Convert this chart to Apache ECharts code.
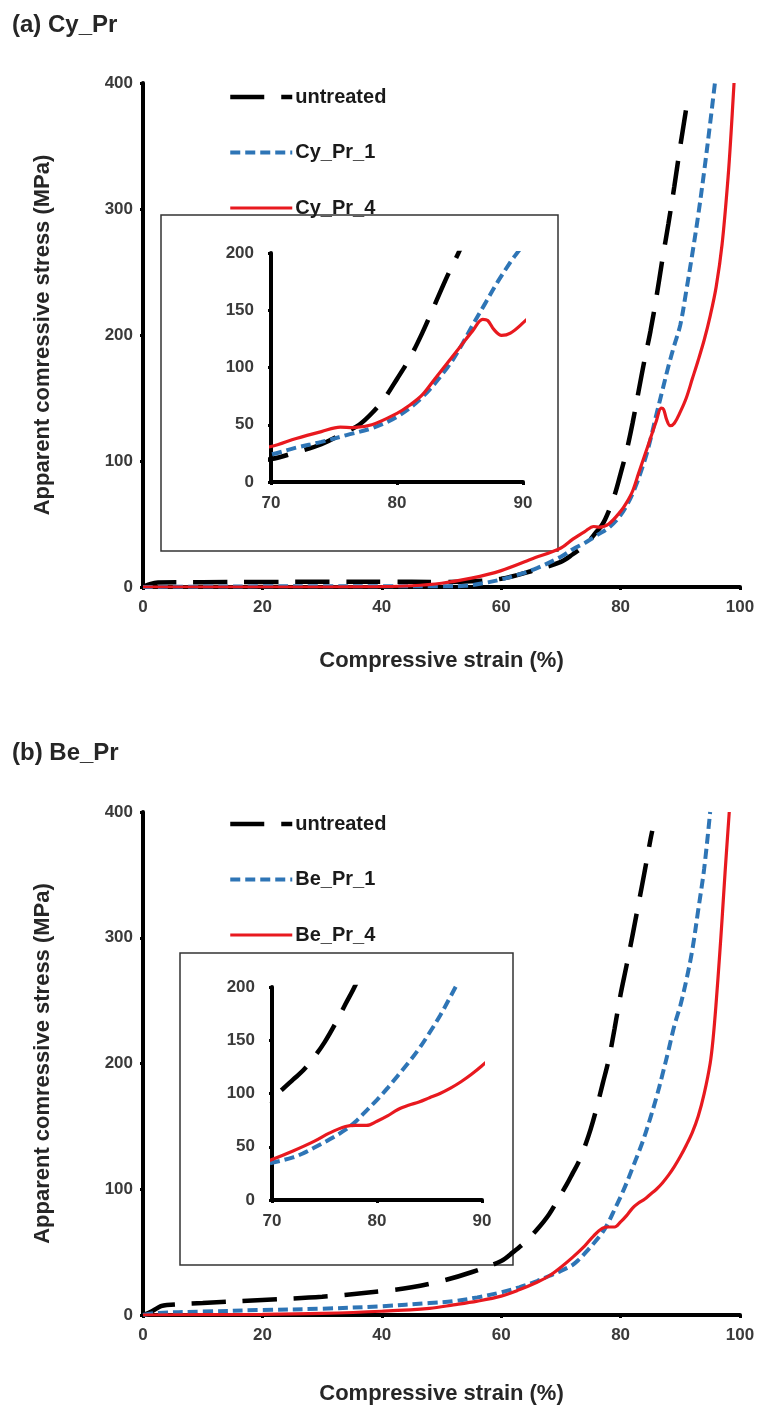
<!DOCTYPE html>
<html>
<head>
<meta charset="utf-8">
<script src="https://cdn.jsdelivr.net/npm/echarts@6/dist/echarts.min.js"></script>
<style>
html, body { margin: 0; padding: 0; background: #fff; }
#chart { width: 760px; height: 1411px; }
</style>
</head>
<body>
<div id="chart"></div>
<script>
// panel titles and legend names
const panelTitles = ['(a) Cy_Pr', '(b) Be_Pr'];
const namesA = ['untreated', 'Cy_Pr_1', 'Cy_Pr_4'];
const namesB = ['untreated', 'Be_Pr_1', 'Be_Pr_4'];

// [strain %, stress MPa]
const untreatedA = [[0,0],[1,2],[2.5,3.5],[10,3.8],[20,4],[30,4.2],[40,4.2],[50,4],[55,4.5],[60,6.5],[65,12.5],[70,20],[72,26],[74,33],[76,44],[77,50],[78,60],[79,73],[80,90],[81,108],[82,130],[83,155],[84,180],[85,203],[86,230],[87,260],[88,288],[89,318],[90,350],[91,380],[91.3,390]];
const cyPr1 = [[0,0],[10,0.3],[20,0.5],[30,0.5],[40,0.5],[50,0.5],[54,1],[57,3],[60,6],[63,10],[66,15],[70,24],[72,30],[74,35],[76,41],[78,47],[80,57],[82,74],[84,100],[85,117],[86,137],[87,156],[88,175],[89,192],[90,208],[91,235],[92,264],[93,295],[94,330],[95,368],[95.8,400]];
const cyPr4 = [[0,0],[10,0],[20,0],[30,0],[40,0.3],[45,1],[50,3],[55,7],[60,13],[65,22],[70,31],[72,38],[74,44],[75.5,48],[76.5,47.5],[78,50],[80,60],[81,67],[82,76],[83,90],[84,104],[85,118],[86,132],[86.8,142],[87.2,141],[87.7,133],[88.3,128],[89,130],[90,139],[91,150],[92,165],[93,180],[94,196],[95,215],[96,238],[97,272],[98,325],[98.5,360],[99,400]];

const untreatedB = [[0,0],[1.5,3],[3,7],[4,8],[10,9.5],[20,12],[30,14.5],[40,19],[45,22],[50,27],[55,34],[60,43],[62,50],[64,58],[66,68],[68,80],[70,96],[71,104],[72,113],[73,122],[74,134],[75,148],[76,165],[77,184],[78,203],[79,228],[80,255],[81,278],[82,302],[83,327],[84,352],[85,378],[85.3,385]];
const bePr1 = [[0,0],[2,1.5],[10,2.7],[20,4],[30,5],[40,7],[48,9.5],[52,11],[56,14],[60,18],[63,22],[66,27],[68,31],[70,35],[72,40],[73,44],[74,49],[75.5,57],[77,66],[78,74],[79,84],[80,94],[81,105],[82,117],[83,129],[84,142],[85,157],[86,173],[87,191],[88,210],[89,230],[90,246],[91,266],[92,290],[93,322],[94,355],[95,400]];
const bePr4 = [[0,0],[10,0.3],[20,0.5],[30,1.3],[40,3],[48,5.3],[52,8],[56,11],[60,15],[63,20],[66,26],[68,31],[70,38],[72,46],[74,55],[75.5,63],[77,69],[78,70],[79,70],[80,74],[81,79],[82,85],[83,89],[84,92],[85,96],[86,100],[87,105],[88,111],[89,118],[90,126],[91,135],[92,145],[93,158],[94,176],[95,200],[95.5,220],[96,248],[96.6,287],[97,315],[97.5,352],[98.2,400]];

const mainXTicks = [0, 100, 20];
const mainYTicks = [0, 400, 100];
const insetXTicks = [70, 90, 10];
const insetYTicks = [0, 200, 50];

const styles = [
  { color: '#000', width: 4.5, type: [34, 17] },
  { color: '#2e75b6', width: 4, type: [10, 5] },
  { color: '#e8191f', width: 3.2, type: 'solid' }
];

const font = 'Liberation Sans, Arial, sans-serif';

function makeAxes(idx, xt, yt, big, xGap) {
  const axisLine = { show: true, lineStyle: { color: '#000', width: 4, cap: 'round' } };
  const tick = { show: true, length: 3, lineStyle: { color: '#000', width: 3 } };
  const lab = { color: '#3a3a3a', fontWeight: 'bold', fontFamily: font, fontSize: 17 };
  return {
    x: {
      type: 'value', gridIndex: idx, min: xt[0], max: xt[1], interval: xt[2],
      axisLine, axisTick: tick, splitLine: { show: false },
      axisLabel: Object.assign({ margin: big ? 12 : 13 }, lab),
      name: big ? 'Compressive strain (%)' : '', nameLocation: 'middle', nameGap: xGap || 0,
      nameTextStyle: { color: '#262626', fontWeight: 'bold', fontFamily: font, fontSize: 22 }
    },
    y: {
      type: 'value', gridIndex: idx, min: yt[0], max: yt[1], interval: yt[2],
      axisLine, axisTick: tick, splitLine: { show: false },
      axisLabel: Object.assign({ margin: big ? 10 : 17 }, lab),
      name: big ? 'Apparent comressive stress (MPa)' : '', nameLocation: 'middle', nameGap: big ? 89 : 0,
      nameTextStyle: { color: '#262626', fontWeight: 'bold', fontFamily: font, fontSize: 22 }
    }
  };
}

const axesList = [
  makeAxes(0, mainXTicks, mainYTicks, true, 63),
  makeAxes(1, insetXTicks, insetYTicks, false),
  makeAxes(2, mainXTicks, mainYTicks, true, 68),
  makeAxes(3, insetXTicks, insetYTicks, false)
];

function lineSeries(name, data, st, axisIdx) {
  return {
    type: 'line', name: name, data: data, xAxisIndex: axisIdx, yAxisIndex: axisIdx,
    showSymbol: false, symbol: 'none', smooth: 0.35, clip: true,
    lineStyle: { color: st.color, width: st.width, type: st.type },
    itemStyle: { color: st.color },
    animation: false
  };
}

const setsA = [untreatedA, cyPr1, cyPr4];
const setsB = [untreatedB, bePr1, bePr4];
const series = [];
[0, 1].forEach(function (g) {
  setsA.forEach(function (d, i) { series.push(lineSeries(namesA[i], d, styles[i], g)); });
});
[2, 3].forEach(function (g) {
  setsB.forEach(function (d, i) { series.push(lineSeries(namesB[i], d, styles[i], g)); });
});

function legendItems(names) {
  return names.map(function (n, i) {
    return { name: n, lineStyle: { width: styles[i].width, type: styles[i].type, color: styles[i].color } };
  });
}

const legendBase = {
  orient: 'vertical', left: 228, padding: 0, itemWidth: 62, itemHeight: 20, itemGap: 35.5,
  selectedMode: false,
  itemStyle: { opacity: 0 },
  textStyle: { color: '#1a1a1a', fontWeight: 'bold', fontFamily: font, fontSize: 20, padding: [0, 0, 0, -2] }
};

const chart = echarts.init(document.getElementById('chart'), null, { renderer: 'canvas' });
chart.setOption({
  backgroundColor: '#fff',
  animation: false,
  title: [
    { text: panelTitles[0], left: 7, top: 8, textStyle: { color: '#262626', fontWeight: 'bold', fontFamily: font, fontSize: 24 } },
    { text: panelTitles[1], left: 7, top: 736, textStyle: { color: '#262626', fontWeight: 'bold', fontFamily: font, fontSize: 24 } }
  ],
  legend: [
    Object.assign({ top: 87, data: legendItems(namesA) }, legendBase),
    Object.assign({ top: 814, data: legendItems(namesB) }, legendBase)
  ],
  grid: [
    { left: 143, top: 83, width: 597, height: 504 },
    { left: 271, top: 253, width: 252, height: 229 },
    { left: 143, top: 812, width: 597, height: 503 },
    { left: 272, top: 987, width: 210, height: 213 }
  ],
  xAxis: axesList.map(function (a) { return a.x; }),
  yAxis: axesList.map(function (a) { return a.y; }),
  graphic: [
    { type: 'rect', shape: { x: 161, y: 215, width: 397, height: 336 }, style: { fill: null, stroke: '#333', lineWidth: 1.5 }, z: 0 },
    { type: 'rect', shape: { x: 180, y: 953, width: 333, height: 312 }, style: { fill: null, stroke: '#333', lineWidth: 1.5 }, z: 0 }
  ],
  series: series
});
</script>
</body>
</html>
